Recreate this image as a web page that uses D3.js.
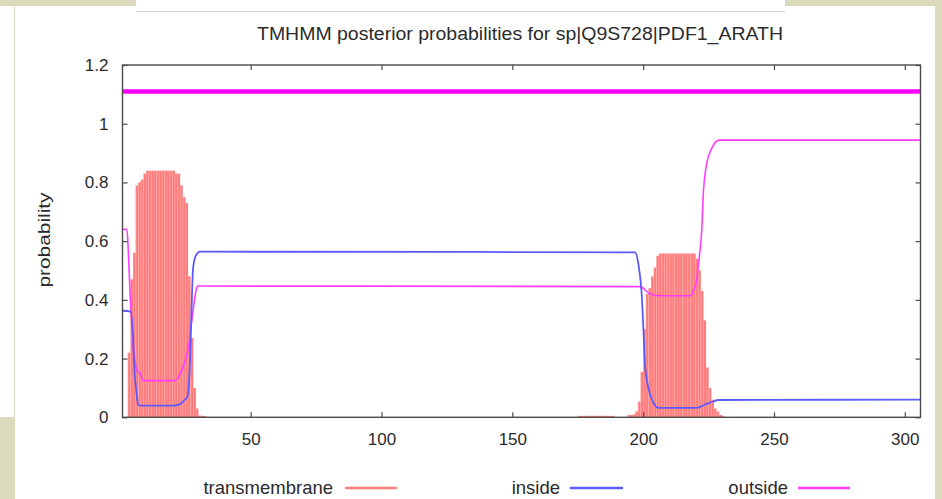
<!DOCTYPE html>
<html><head><meta charset="utf-8">
<script src="https://cdn.jsdelivr.net/npm/d3@7"></script>
<style>
html,body{margin:0;padding:0;background:#dcdabd;}
svg{display:block;}
text{font-family:"Liberation Sans",Arial,Helvetica,sans-serif;fill:#2b2b2b;}
</style>
</head><body>
<svg id="chart" width="942" height="499"></svg>
<script>
// ---------------- data ----------------
const chartTitle = "TMHMM posterior probabilities for sp|Q9S728|PDF1_ARATH";
const yAxisLabel = "probability";
const seriesNames = ["transmembrane", "inside", "outside"];
const xTicks = [50, 100, 150, 200, 250, 300];
const yTicks = [0, 0.2, 0.4, 0.6, 0.8, 1, 1.2];
const xDomain = [1, 306];
const yDomain = [0, 1.2];

// transmembrane posterior per residue (residues not listed are ~0)
const tmResidues = [3,4,5,6,7,8,9,10,11,12,13,14,15,16,17,18,19,20,21,22,23,24,25,26,27,28,29,30,31,32,
  175,176,177,178,179,180,181,182,183,184,185,186,187,188,
  194,195,196,197,198,199,200,201,202,203,204,205,206,207,208,209,210,211,212,213,214,215,216,217,218,219,
  220,221,222,223,224,225,226,227,228,229,230];
const tmValues = [0.22,0.47,0.56,0.79,0.80,0.81,0.83,0.84,0.84,0.84,0.84,0.84,0.84,0.84,0.84,0.84,0.84,0.84,0.83,0.83,0.79,0.75,0.73,0.48,0.27,0.10,0.03,0.006,0.005,0.004,
  0.005,0.005,0.005,0.005,0.005,0.005,0.005,0.005,0.005,0.005,0.005,0.005,0.005,0.005,
  0.008,0.008,0.01,0.02,0.053,0.155,0.30,0.42,0.44,0.48,0.51,0.55,0.558,0.558,0.558,0.558,0.558,0.558,0.558,0.558,0.558,0.558,0.558,0.558,0.558,0.558,
  0.54,0.50,0.43,0.33,0.17,0.10,0.06,0.03,0.02,0.008,0.005];

// inside posterior (read points along the curve)
const insidePos = [1,4.1,5.1,5.4,6.4,7,8,20.4,23,24.9,25.8,26.8,27.4,28,29,30.6,196.9,198.2,199.5,200.1,200.7,202,203.9,205.8,220.5,224,226.5,228.8,306];
const insideVal = [0.363,0.36,0.26,0.19,0.08,0.042,0.04,0.04,0.045,0.06,0.07,0.19,0.37,0.51,0.55,0.564,0.562,0.52,0.41,0.30,0.18,0.10,0.05,0.032,0.032,0.045,0.053,0.059,0.06];

// outside posterior (read points along the curve)
const outsidePos = [1,2.7,3.2,3.9,4.5,5.1,5.8,6.4,7.7,8.95,21.1,22.3,23.6,24.9,26.2,27.5,28.7,29.6,30.6,198.8,202.6,205.8,217.9,219.2,220.5,221.5,222.4,223,224.3,226.2,229,306];
const outsideVal = [0.64,0.64,0.57,0.42,0.33,0.24,0.19,0.16,0.15,0.125,0.125,0.135,0.16,0.19,0.24,0.33,0.41,0.447,0.447,0.445,0.42,0.414,0.414,0.43,0.47,0.55,0.64,0.763,0.865,0.916,0.944,0.944];

// predicted topology bar on top (whole sequence: outside)
const topologyStart = [1];
const topologyEnd = [306];
const topologyLevel = [1.11];

// ---------------- layout ----------------
const W = 942, H = 499;
const plot = {left: 122.5, right: 920.5, top: 65, bottom: 417.3};
const colTM = "#ff7b7b", colIn = "#5a5aff", colOut = "#ff3cff", colTopo = "#ff00ff";
const frameCol = "#4a4a4a";

const svg = d3.select("#chart");

// page background pieces
svg.append("rect").attr("x",0).attr("y",0).attr("width",W).attr("height",H).attr("fill","#dcdabd");
svg.append("rect").attr("x",15).attr("y",6).attr("width",920).attr("height",H-6).attr("fill","#ffffff");
svg.append("rect").attr("x",0).attr("y",6).attr("width",14).attr("height",411).attr("fill","#ffffff");
svg.append("rect").attr("x",136).attr("y",0).attr("width",649).attr("height",11).attr("fill","#ffffff");
svg.append("line").attr("x1",136).attr("x2",785).attr("y1",11.5).attr("y2",11.5).attr("stroke","#d6d6d6").attr("stroke-width",1);

const x = d3.scaleLinear().domain(xDomain).range([plot.left, plot.right]);
const y = d3.scaleLinear().domain(yDomain).range([plot.bottom, plot.top]);

svg.append("defs").append("clipPath").attr("id","clip")
  .append("rect").attr("x",plot.left).attr("y",plot.top)
  .attr("width",plot.right-plot.left).attr("height",plot.bottom-plot.top);

const g = svg.append("g").attr("clip-path","url(#clip)");

// transmembrane bars
const tmData = tmResidues.map((r,i)=>({r, v: tmValues[i]}));
g.selectAll("rect.tm").data(tmData).enter().append("rect")
  .attr("class","tm")
  .attr("x", d => x(d.r))
  .attr("width", d => x(d.r+1)-x(d.r)+0.1)
  .attr("y", d => y(d.v))
  .attr("height", d => y(0)-y(d.v))
  .attr("fill", colTM);
// faint separators between residues
g.selectAll("line.sep").data(tmData).enter().append("line")
  .attr("class","sep")
  .attr("x1", d => x(d.r)+0.3).attr("x2", d => x(d.r)+0.3)
  .attr("y1", d => y(d.v)).attr("y2", y(0))
  .attr("stroke","rgba(255,255,255,0.35)").attr("stroke-width",0.6);

const line = d3.line().x(d=>x(d[0])).y(d=>y(d[1])).curve(d3.curveMonotoneX);

g.append("path").datum(outsidePos.map((p,i)=>[p,outsideVal[i]]))
  .attr("d", line).attr("fill","none").attr("stroke",colOut).attr("stroke-width",1.6);
g.append("path").datum(insidePos.map((p,i)=>[p,insideVal[i]]))
  .attr("d", line).attr("fill","none").attr("stroke",colIn).attr("stroke-width",1.8);

// topology bar
topologyStart.forEach((s,i)=>{
  g.append("line").attr("x1",x(s)).attr("x2",x(topologyEnd[i]))
   .attr("y1",y(topologyLevel[i])).attr("y2",y(topologyLevel[i]))
   .attr("stroke",colTopo).attr("stroke-width",4.5);
});

// frame
svg.append("rect").attr("x",plot.left).attr("y",plot.top)
  .attr("width",plot.right-plot.left).attr("height",plot.bottom-plot.top)
  .attr("fill","none").attr("stroke",frameCol).attr("stroke-width",1.4);

// axes
const fmt = d => String(d);
const xb = svg.append("g").attr("transform",`translate(0,${plot.bottom})`)
  .call(d3.axisBottom(x).tickValues(xTicks).tickFormat(fmt).tickSizeInner(-5).tickSizeOuter(0).tickPadding(16));
const xt = svg.append("g").attr("transform",`translate(0,${plot.top})`)
  .call(d3.axisTop(x).tickValues(xTicks).tickFormat("").tickSizeInner(-5).tickSizeOuter(0));
const yl = svg.append("g").attr("transform",`translate(${plot.left},0)`)
  .call(d3.axisLeft(y).tickValues(yTicks).tickFormat(fmt).tickSizeInner(-5).tickSizeOuter(0).tickPadding(14));
const yr = svg.append("g").attr("transform",`translate(${plot.right},0)`)
  .call(d3.axisRight(y).tickValues(yTicks).tickFormat("").tickSizeInner(-5).tickSizeOuter(0));

[xb,xt,yl,yr].forEach(a=>{
  a.select(".domain").remove();
  a.selectAll(".tick line").attr("stroke",frameCol).attr("stroke-width",1.2);
  a.selectAll("text").attr("fill","#2b2b2b").style("font-size","17px")
   .style("font-family","'Liberation Sans',Arial,sans-serif");
});

// title
svg.append("text").attr("x",520).attr("y",40).attr("text-anchor","middle")
  .style("font-size","18px").attr("textLength",526).attr("lengthAdjust","spacingAndGlyphs")
  .text(chartTitle);

// y label
svg.append("text").attr("transform","translate(50,240) rotate(-90)")
  .attr("text-anchor","middle").style("font-size","16.5px")
  .attr("textLength",95).attr("lengthAdjust","spacingAndGlyphs")
  .text(yAxisLabel);

// legend
const legendCols = [colTM, colIn, colOut];
const legendTextRight = [333, 560, 788];
const legendLineX = [[345,397],[570,623],[798,850]];
const legendY = 488;
seriesNames.forEach((n,i)=>{
  svg.append("text").attr("x",legendTextRight[i]).attr("y",legendY+6).attr("text-anchor","end")
    .style("font-size","18.5px").text(n);
  svg.append("line").attr("x1",legendLineX[i][0]).attr("x2",legendLineX[i][1])
    .attr("y1",legendY).attr("y2",legendY)
    .attr("stroke",legendCols[i]).attr("stroke-width",2.6);
});
</script>
</body></html>
